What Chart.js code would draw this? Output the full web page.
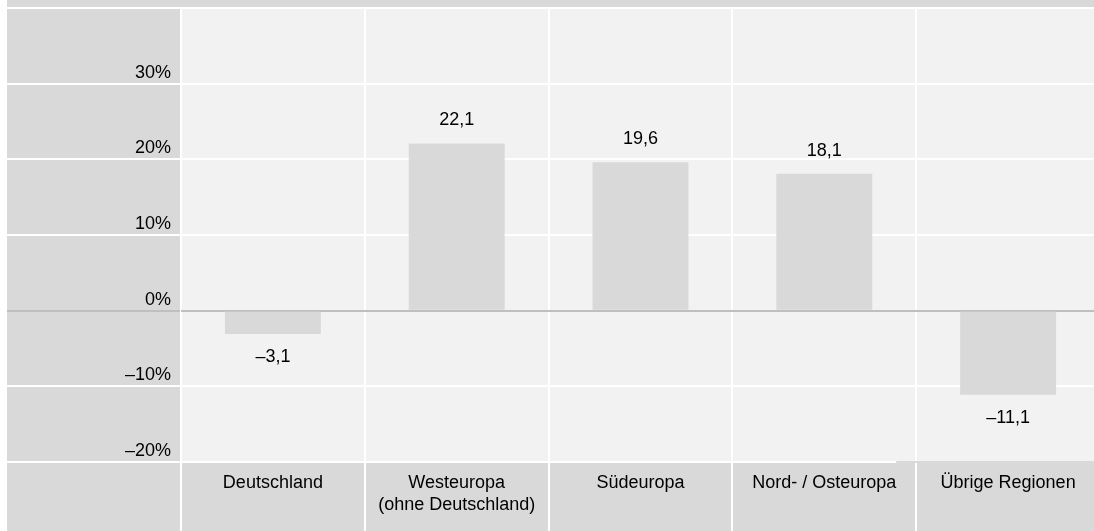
<!DOCTYPE html>
<html>
<head>
<meta charset="utf-8">
<script src="https://cdn.jsdelivr.net/npm/chart.js@4.4.1/dist/chart.umd.min.js"></script>
<style>
    html, body { margin: 0; padding: 0; background: #ffffff; overflow: hidden; }
    /* the chart runs a few pixels past the right edge of the window, like the original */
    #wrap { width: 1100px; height: 531px; position: relative; }
</style>
</head>
<body>
<div id="wrap"><canvas id="chart"></canvas></div>
<script>
// Chart data
const regions = ['Deutschland', ['Westeuropa', '(ohne Deutschland)'], 'Südeuropa', 'Nord- / Osteuropa', 'Übrige Regionen'];
const changeValues = [-3.1, 22.1, 19.6, 18.1, -11.1];
const yMin = -20;
const yMax = 40;
const yStep = 10;

const FONT = { family: '"Liberation Sans", Arial, sans-serif', size: 18, lineHeight: 1.17 };
const GREY_DARK = '#d9d9d9';
const GREY_LIGHT = '#f2f2f2';
const ZERO_LINE = '#bfbfbf';

// German style number: en dash for minus, comma decimal
function formatNumber(v, digits) {
    const s = Math.abs(v).toFixed(digits).replace('.', ',');
    return (v < 0 ? '\u2013' : '') + s;
}

// Background bands: header strip, left label column, bottom category row
const bandsPlugin = {
    id: 'bands',
    beforeDraw(chart) {
        const { ctx, chartArea, width, height } = chart;
        const xScale = chart.scales.x;
        const yScale = chart.scales.y;
        ctx.save();
        ctx.fillStyle = '#ffffff';
        ctx.fillRect(0, 0, width, height);

        ctx.fillStyle = GREY_DARK;
        ctx.fillRect(7, 0, width - 7, chartArea.top - 1);
        ctx.fillRect(7, chartArea.top, chartArea.left - 7, chartArea.bottom - chartArea.top);
        ctx.fillRect(7, chartArea.bottom, width - 7, height - chartArea.bottom);

        ctx.fillStyle = GREY_LIGHT;
        ctx.fillRect(chartArea.left, chartArea.top, chartArea.right - chartArea.left, chartArea.bottom - chartArea.top);

        // grid lines continued into the left column
        ctx.lineWidth = 2;
        yScale.ticks.forEach(t => {
            const py = Math.round(yScale.getPixelForValue(t.value));
            ctx.strokeStyle = t.value === 0 ? ZERO_LINE : '#ffffff';
            ctx.beginPath();
            ctx.moveTo(7, py);
            ctx.lineTo(chartArea.left, py);
            ctx.stroke();
        });

        // separators continued into the category row
        ctx.strokeStyle = '#ffffff';
        for (let i = 0; i <= regions.length; i++) {
            const px = Math.round(xScale.getPixelForValue(i - 0.5));
            ctx.beginPath();
            ctx.moveTo(px, chartArea.bottom);
            ctx.lineTo(px, height);
            ctx.stroke();
        }
        ctx.restore();
    },
    beforeDatasetsDraw(chart) {
        // the bottom grid line stops short before the last column in the original
        const { ctx, chartArea, width } = chart;
        const xScale = chart.scales.x;
        const stop = xScale.getPixelForValue(regions.length - 1.5) - 20;
        const py = Math.round(chart.scales.y.getPixelForValue(yMin));
        ctx.save();
        ctx.fillStyle = GREY_DARK;
        ctx.fillRect(stop, py - 1, width - stop, 2);
        ctx.restore();
    }
};

// Value labels above / below the bars
const valueLabelPlugin = {
    id: 'valueLabels',
    afterDatasetsDraw(chart) {
        const { ctx } = chart;
        const meta = chart.getDatasetMeta(0);
        ctx.save();
        ctx.font = FONT.size + 'px ' + FONT.family;
        ctx.fillStyle = '#000000';
        ctx.textAlign = 'center';
        meta.data.forEach((bar, i) => {
            const v = changeValues[i];
            if (v >= 0) {
                ctx.textBaseline = 'alphabetic';
                ctx.fillText(formatNumber(v, 1), bar.x, bar.y - 18);
            } else {
                ctx.textBaseline = 'top';
                ctx.fillText(formatNumber(v, 1), bar.x, bar.y + 14);
            }
        });
        ctx.restore();
    }
};

new Chart(document.getElementById('chart'), {
    type: 'bar',
    data: {
        labels: regions,
        datasets: [{
            data: changeValues,
            backgroundColor: GREY_DARK,
            borderWidth: 0,
            barPercentage: 0.522,
            categoryPercentage: 1
        }]
    },
    options: {
        responsive: true,
        maintainAspectRatio: false,
        animation: false,
        layout: {
            padding: { left: 7, top: 8, right: 0, bottom: 0 }
        },
        plugins: {
            legend: { display: false },
            tooltip: { enabled: false }
        },
        scales: {
            x: {
                offset: true,
                border: { display: false },
                grid: {
                    offset: true,
                    color: '#ffffff',
                    lineWidth: 2,
                    drawTicks: false
                },
                ticks: {
                    color: '#000000',
                    font: FONT,
                    padding: 11,
                    maxRotation: 0,
                    autoSkip: false
                },
                afterFit(scale) {
                    scale.height = 69;
                    scale.paddingLeft = 0;
                    scale.paddingRight = 0;
                }
            },
            y: {
                min: yMin,
                max: yMax,
                border: { display: false },
                grid: {
                    color: ctx => (ctx.tick && ctx.tick.value === 0) ? ZERO_LINE : '#ffffff',
                    lineWidth: 2,
                    drawTicks: false
                },
                ticks: {
                    stepSize: yStep,
                    color: '#000000',
                    font: FONT,
                    padding: 10,
                    labelOffset: -11,
                    callback: v => v === yMax ? '' : formatNumber(v, 0) + '%'
                },
                afterFit(scale) {
                    scale.width = 174;
                    scale.paddingTop = 0;
                    scale.paddingBottom = 0;
                }
            }
        }
    },
    plugins: [bandsPlugin, valueLabelPlugin]
});
</script>
</body>
</html>
